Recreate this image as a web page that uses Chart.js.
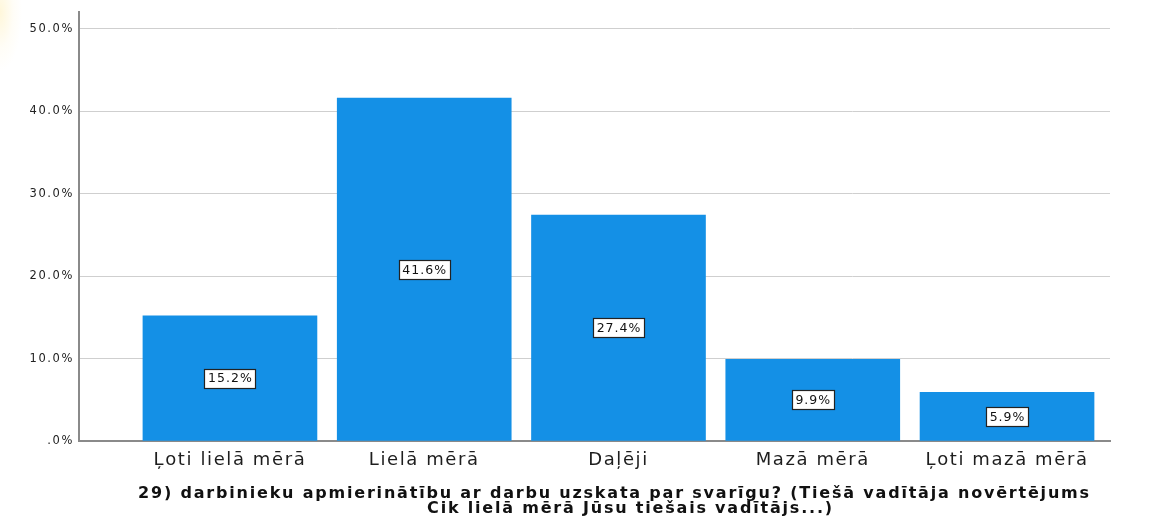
<!DOCTYPE html>
<html>
<head>
<meta charset="utf-8">
<script src="https://cdn.jsdelivr.net/npm/chart.js@4/dist/chart.umd.min.js"></script>
<style>
  html, body { margin: 0; padding: 0; background: #fff; }
  body {
    width: 1167px; height: 520px; overflow: hidden;
    background: radial-gradient(ellipse 22px 60px at 0px 12px, rgba(255,246,214,0.9), rgba(255,251,238,0.5) 60%, rgba(255,255,255,0) 100%), #fff;
  }
  #wrap { position: relative; width: 1167px; height: 520px; }
</style>
</head>
<body>
<div id="wrap"><canvas id="c" width="1167" height="520"></canvas></div>
<script>
// Answer categories and percentage of respondents
const categories = ['Ļoti lielā mērā', 'Lielā mērā', 'Daļēji', 'Mazā mērā', 'Ļoti mazā mērā'];
const percentages = [15.2, 41.6, 27.4, 9.9, 5.9];
const yTicks = [0, 10, 20, 30, 40, 50];
const axisTitle = [
  '29) darbinieku apmierinātību ar darbu uzskata par svarīgu? (Tiešā vadītāja novērtējums',
  'Cik lielā mērā Jūsu tiešais vadītājs...)'
];

const barColor = '#1490e6';
const wideText = '1.6px';

// Axis text is set a little wider than the font's default spacing
const wideAxisText = {
  id: 'wideAxisText',
  beforeDraw(chart) { chart.ctx.letterSpacing = wideText; },
  beforeDatasetsDraw(chart) { chart.ctx.letterSpacing = '0px'; }
};

// Two-line bold variable label under the category axis
const axisCaption = {
  id: 'axisCaption',
  afterDraw(chart) {
    const ctx = chart.ctx;
    const area = chart.chartArea;
    ctx.save();
    ctx.font = 'bold 16px "DejaVu Sans"';
    ctx.letterSpacing = '1.8px';
    ctx.fillStyle = '#111';
    ctx.textAlign = 'center';
    ctx.textBaseline = 'alphabetic';
    const mid = (area.left + area.right) / 2;
    ctx.fillText(axisTitle[0], mid + 20, area.bottom + 57);
    ctx.fillText(axisTitle[1], mid + 36, area.bottom + 72);
    ctx.restore();
  }
};

// Boxed value labels in the middle of every bar
const valueBoxes = {
  id: 'valueBoxes',
  afterDatasetsDraw(chart) {
    const ctx = chart.ctx;
    const meta = chart.getDatasetMeta(0);
    ctx.save();
    ctx.font = '12.5px "DejaVu Sans"';
    ctx.letterSpacing = '1px';
    ctx.textAlign = 'center';
    ctx.textBaseline = 'middle';
    meta.data.forEach((bar, i) => {
      const txt = percentages[i].toFixed(1) + '%';
      const w = Math.round(ctx.measureText(txt).width + 6);
      const h = 19;
      const cx = bar.x;
      const cy = (bar.y + bar.base) / 2;
      const x0 = Math.round(cx - w / 2) + 0.5;
      const y0 = Math.round(cy - h / 2) + 0.5;
      ctx.fillStyle = '#fff';
      ctx.fillRect(x0, y0, w, h);
      ctx.strokeStyle = '#222';
      ctx.lineWidth = 1.2;
      ctx.strokeRect(x0, y0, w, h);
      ctx.fillStyle = '#111';
      ctx.fillText(txt, cx + 0.5, cy + 1);
    });
    ctx.restore();
  }
};

new Chart(document.getElementById('c'), {
  type: 'bar',
  data: {
    datasets: [{
      data: percentages.map((v, i) => ({ x: i, y: v })),
      backgroundColor: barColor,
      borderWidth: 0,
      barThickness: 174
    }]
  },
  options: {
    responsive: false,
    animation: false,
    layout: { padding: { left: 0, right: 57, top: -3, bottom: 0 } },
    plugins: { legend: { display: false }, tooltip: { enabled: false } },
    scales: {
      x: {
        type: 'linear',
        min: -0.777,
        max: 4.53,
        offset: false,
        afterBuildTicks(scale) { scale.ticks = categories.map((_, i) => ({ value: i })); },
        afterFit(scale) { scale.height = 79; },
        grid: { display: false, drawTicks: false },
        border: { display: true, color: '#8a8a8a', width: 2 },
        ticks: {
          autoSkip: false,
          maxRotation: 0,
          padding: 9,
          color: '#1e1e1e',
          font: { family: '"DejaVu Sans"', size: 18 },
          callback: (v) => categories[v]
        },
        title: { display: false }
      },
      y: {
        min: 0,
        max: 52.06,
        afterBuildTicks(scale) { scale.ticks = yTicks.map(v => ({ value: v })); },
        afterFit(scale) { scale.width = 79; },
        grid: { color: '#cfcfcf', lineWidth: 1, drawTicks: false },
        border: { display: true, color: '#8a8a8a', width: 2 },
        ticks: {
          padding: 5,
          color: '#222',
          font: { family: '"DejaVu Sans"', size: 11.5 },
          callback: (v) => v === 0 ? '.0%' : v.toFixed(1) + '%'
        }
      }
    }
  },
  plugins: [wideAxisText, valueBoxes, axisCaption]
});
</script>
</body>
</html>
